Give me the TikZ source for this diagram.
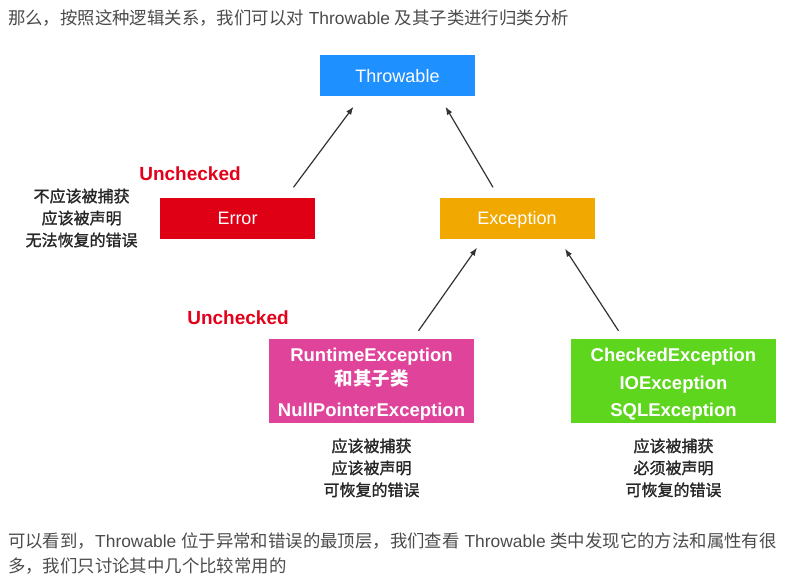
\documentclass[tikz,border=0pt]{standalone}
\usepackage{fontspec}
\setmainfont{Liberation Sans}
\newfontfamily\cjk{Noto Sans CJK SC}
\newfontfamily\cjknote[FakeBold=1.4]{Noto Sans CJK SC}
\usepackage{xcolor}
\usetikzlibrary{arrows.meta,positioning}
\definecolor{throwblue}{RGB}{30,144,255}
\definecolor{errorred}{RGB}{224,0,22}
\definecolor{excorange}{RGB}{241,168,0}
\definecolor{rtpink}{RGB}{224,68,154}
\definecolor{chkgreen}{RGB}{94,214,30}
\definecolor{tagred}{RGB}{226,0,26}
\definecolor{prose}{RGB}{75,75,75}
\newcommand{\toppad}{\rule{0pt}{20pt}}
\tikzstyle{klass} = [rectangle, text=white, minimum width=155pt, minimum height=41pt, align=center, inner sep=2pt, text height=12.5pt, text depth=0pt, font=\fontsize{18}{22}\selectfont]
\tikzstyle{bigklass} = [rectangle, text=white, minimum width=205pt, minimum height=84pt, align=center, inner sep=0pt, font=\bfseries\fontsize{18.5}{22}\selectfont]
\tikzstyle{note} = [align=center, text=black!85, font=\cjknote\fontsize{16}{22}\selectfont, inner sep=0pt]
\tikzstyle{tag} = [text=tagred, font=\bfseries\fontsize{19}{22}\selectfont, inner sep=0pt]
\tikzstyle{prosetext} = [text=prose, align=left, inner sep=0pt, font=\fontsize{17.4}{25}\selectfont]
\tikzstyle{arrow} = [-{Latex[length=8pt,width=6pt]}, line width=1.2pt, draw=black!80]

\begin{document}
\begin{tikzpicture}[x=1pt,y=-1pt]
\useasboundingbox (0,0) rectangle (787,583);
\node[prosetext, anchor=base west] (intro) at (8,24.5) {{\cjk 那么，按照这种逻辑关系，我们可以对} Throwable {\cjk 及其子类进行归类分析}};

\node[klass, fill=throwblue] (thr) at (397.5,76) {Throwable};
\node[klass, fill=errorred] (err) at (237.5,218) {Error};
\node[klass, fill=excorange] (exc) at (517,218) {Exception};
\node[bigklass, fill=rtpink] (rt) at (371.5,381) {\toppad RuntimeException\\[2pt]{\cjk 和其子类}\\[9pt]NullPointerException};
\node[bigklass, fill=chkgreen] (chk) at (673.5,381) {\toppad CheckedException\\[5.5pt]IOException\\[5.5pt]SQLException};

\node[tag] (tagerr) at (190,174) {Unchecked};
\node[tag] (tagrt) at (238,318) {Unchecked};

\node[note, left=22pt of err] (errnote) {不应该被捕获\\应该被声明\\无法恢复的错误};
\node[note, below=15pt of rt] (rtnote) {应该被捕获\\应该被声明\\可恢复的错误};
\node[note, below=15pt of chk] (chknote) {应该被捕获\\必须被声明\\可恢复的错误};

\draw[arrow] ([xshift=56pt,yshift=10pt]err.north) -- ([xshift=-44pt,yshift=-10pt]thr.south);
\draw[arrow] ([xshift=-24pt,yshift=10pt]exc.north) -- ([xshift=48pt,yshift=-10pt]thr.south);
\draw[arrow] ([xshift=47pt,yshift=8pt]rt.north) -- ([xshift=-40pt,yshift=-9pt]exc.south);
\draw[arrow] ([xshift=-55pt,yshift=8pt]chk.north) -- ([xshift=48pt,yshift=-10pt]exc.south);

\node[prosetext, anchor=north west] (outro) at (8,533) {{\cjk 可以看到，}Throwable {\cjk 位于异常和错误的最顶层，我们查看} Throwable {\cjk 类中发现它的方法和属性有很}\\{\cjk 多，我们只讨论其中几个比较常用的}};
\end{tikzpicture}
\end{document}
